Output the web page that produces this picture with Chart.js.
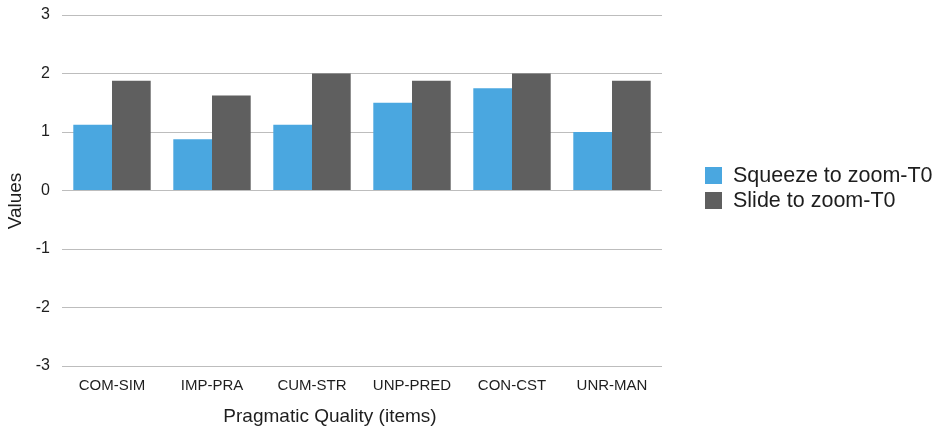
<!DOCTYPE html>
<html>
<head>
<meta charset="utf-8">
<script src="https://cdn.jsdelivr.net/npm/chart.js@4"></script>
<style>
  html, body { margin: 0; padding: 0; background: #ffffff; }
  #wrap { position: relative; width: 940px; height: 428px; overflow: hidden;
          font-family: "Liberation Sans", Arial, Helvetica, sans-serif; color: #1e1e1e; }
  #chart { position: absolute; left: 0; top: 0; }
  .axis-title { position: absolute; font-size: 19px; white-space: nowrap; text-align: center; }
  #xTitle { left: 130px; width: 400px; top: 406px; line-height: 19px; }
  #yTitle { left: -35px; width: 100px; height: 20px; top: 191px; line-height: 20px;
            transform: rotate(-90deg); transform-origin: 50% 50%; }
  #legend { position: absolute; left: 705px; top: 163.4px; }
  .legend-row { position: relative; height: 25px; line-height: 25px; font-size: 21.5px; white-space: nowrap; padding-left: 28px; }
  .legend-box { position: absolute; left: 0; top: 4px; width: 17px; height: 17px; }
</style>
</head>
<body>
<div id="wrap">
  <canvas id="chart" width="940" height="428"></canvas>
  <div id="yTitle" class="axis-title">Values</div>
  <div id="xTitle" class="axis-title">Pragmatic Quality (items)</div>
  <div id="legend"></div>
</div>
<script>
// Pragmatic quality items and mean scores per interaction technique
const categories = ['COM-SIM', 'IMP-PRA', 'CUM-STR', 'UNP-PRED', 'CON-CST', 'UNR-MAN'];
const seriesNames = ['Squeeze to zoom-T0', 'Slide to zoom-T0'];
const squeezeValues = [1.125, 0.875, 1.125, 1.5, 1.75, 1.0];
const slideValues = [1.875, 1.625, 2.0, 1.875, 2.0, 1.875];
const yTickValues = [-3, -2, -1, 0, 1, 2, 3];

const seriesColors = ['#4aa7e0', '#5f5f5f'];
const textColor = '#1e1e1e';
const gridColor = '#bdbdbd';

const chart = new Chart(document.getElementById('chart'), {
  type: 'bar',
  data: {
    labels: categories,
    datasets: [
      { label: seriesNames[0], data: squeezeValues, backgroundColor: seriesColors[0], borderWidth: 0 },
      { label: seriesNames[1], data: slideValues, backgroundColor: seriesColors[1], borderWidth: 0 }
    ]
  },
  options: {
    responsive: false,
    animation: false,
    devicePixelRatio: 1,
    layout: { padding: { left: 0, top: 15, right: 278, bottom: 0 } },
    datasets: { bar: { categoryPercentage: 0.774, barPercentage: 1.0 } },
    plugins: { legend: { display: false }, tooltip: { enabled: false } },
    scales: {
      x: {
        grid: { display: false },
        border: { display: false },
        ticks: {
          color: textColor,
          padding: 3,
          maxRotation: 0,
          autoSkip: false,
          font: { family: '"Liberation Sans", Arial, sans-serif', size: 15 }
        },
        afterFit: (scale) => {
          scale.height = 62;
          scale.paddingLeft = 0; scale.paddingRight = 0;
        }
      },
      y: {
        min: Math.min(...yTickValues),
        max: Math.max(...yTickValues),
        afterBuildTicks: (scale) => { scale.ticks = yTickValues.map(v => ({ value: v })); },
        grid: { color: gridColor, lineWidth: 1, drawTicks: false },
        border: { display: false },
        ticks: {
          color: textColor,
          padding: 12,
          font: { family: '"Liberation Sans", Arial, sans-serif', size: 16 }
        },
        afterFit: (scale) => {
          scale.width = 62;
          scale.paddingTop = 0; scale.paddingBottom = 0;
        }
      }
    }
  }
});

// Legend built from the chart's own datasets
const legendEl = document.getElementById('legend');
chart.data.datasets.forEach((ds) => {
  const row = document.createElement('div');
  row.className = 'legend-row';
  const box = document.createElement('span');
  box.className = 'legend-box';
  box.style.background = ds.backgroundColor;
  row.appendChild(box);
  row.appendChild(document.createTextNode(ds.label));
  legendEl.appendChild(row);
});
</script>
</body>
</html>
